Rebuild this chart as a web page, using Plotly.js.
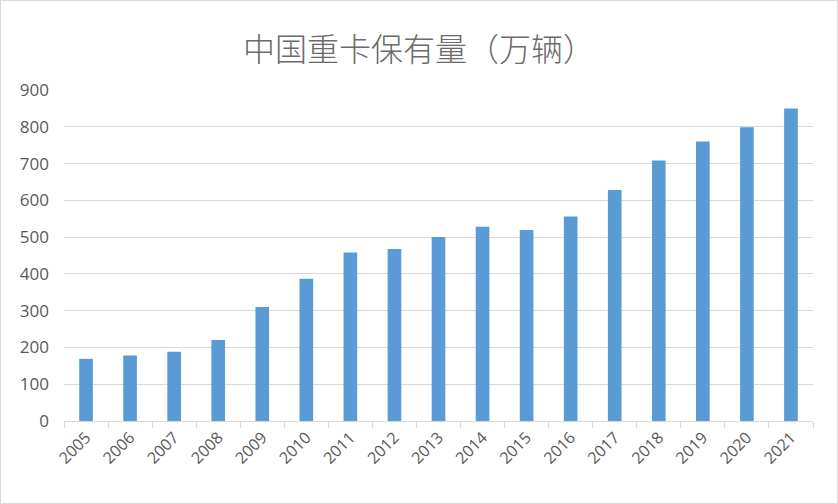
<!DOCTYPE html>
<html>
<head>
<meta charset="utf-8">
<script src="https://cdn.plot.ly/plotly-3.0.1.min.js"></script>
<style>
  html, body { margin: 0; padding: 0; background: #fff; }
  #myPlot { width: 836px; height: 502px; border: 1px solid #d9d9d9; }
</style>
</head>
<body>
<div id="myPlot"></div>
<script>
// 中国重卡保有量（万辆）
let years = ["2005", "2006", "2007", "2008", "2009", "2010", "2011", "2012", "2013",
  "2014", "2015", "2016", "2017", "2018", "2019", "2020", "2021"];
let stock = [169, 178, 188, 220, 310, 387, 458, 468, 500, 528, 519, 556, 628, 708, 760, 799, 850];
let yTicks = [0, 100, 200, 300, 400, 500, 600, 700, 800, 900];

let trace1 = {
  x: years,
  y: stock,
  type: 'bar',
  marker: { color: '#5b9bd5' },
  hoverinfo: 'x+y'
};

let layout = {
  width: 836,
  height: 502,
  margin: { l: 63, r: 24, t: 89, b: 82 },
  paper_bgcolor: '#ffffff',
  plot_bgcolor: '#ffffff',
  showlegend: false,
  bargap: 0.69,
  font: { family: 'Open Sans, Liberation Sans, sans-serif', color: '#595959', size: 14 },
  title: {
    text: '中国重卡保有量（万辆）',
    font: { family: 'Noto Sans CJK SC, sans-serif', size: 32, color: '#6b6b6b', weight: 300 },
    x: 0.5,
    xref: 'container',
    xanchor: 'center',
    y: 0.925,
    yref: 'container'
  },
  xaxis: {
    type: 'category',
    tickangle: -45,
    tickson: 'boundaries',
    ticks: 'outside',
    ticklen: 6,
    tickcolor: '#d9d9d9',
    showline: true,
    linecolor: '#d9d9d9',
    linewidth: 1,
    showgrid: false,
    tickfont: { size: 16, color: '#595959' },
    fixedrange: true
  },
  yaxis: {
    range: [0, 900],
    tickvals: yTicks,
    ticktext: yTicks.map(String),
    showgrid: true,
    gridcolor: '#d9d9d9',
    zeroline: false,
    showline: false,
    ticks: '',
    ticklabelstandoff: 14,
    tickfont: { size: 17, color: '#595959' },
    fixedrange: true
  }
};

Plotly.newPlot("myPlot", [trace1], layout, { displayModeBar: false, staticPlot: true });
</script>
</body>
</html>
